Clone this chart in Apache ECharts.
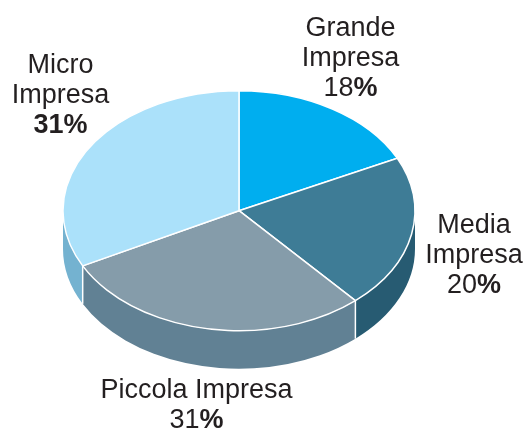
<!DOCTYPE html>
<html><head><meta charset="utf-8">
<style>html,body{margin:0;padding:0;background:#fff}#c{width:524px;height:428px}</style>
<script src="https://cdn.jsdelivr.net/npm/echarts@6/dist/echarts.min.js"></script>
</head><body><div id="c"></div>
<script>
// Data
const categories = ['Grande Impresa', 'Media Impresa', 'Piccola Impresa', 'Micro Impresa'];
const printedPercents = [18, 20, 31, 31];        // as printed in the labels
const sliceShares = [17.8, 20.7, 28.9, 32.6];    // as drawn (measured from the slice edges)
const topColors = ['#00AEEF', '#3E7C96', '#859CAA', '#ABE1FA'];
const sideColors = ['#0090C6', '#275B72', '#618194', '#74B2D0'];
const labelLines = [['Grande', 'Impresa'], ['Media', 'Impresa'], ['Piccola Impresa'], ['Micro', 'Impresa']];
const labelBoldDigits = [false, false, false, true];

// Layout
const pie = {cx: 239, cy: 210.7, rx: 176, ry: 120, depth: 38};
const labelCentres = [[350.5, 13], [474, 210], [196.5, 375], [60.5, 50]];
const font = '"Liberation Sans", Arial, sans-serif';
const fontSize = 27, lineHeight = 30.4, ink = '#231F20';

const total = sliceShares.reduce((a, b) => a + b, 0);
const starts = [];
sliceShares.reduce((acc, v, i) => { starts[i] = acc; return acc + v; }, 0);
const ang = s => s / total * 2 * Math.PI;            // clockwise from 12 o'clock
const px = a => pie.cx + pie.rx * Math.sin(a);
const py = a => pie.cy - pie.ry * Math.cos(a);
const arc = (a0, a1, dy, sweep) =>
  `A${pie.rx} ${pie.ry} 0 ${Math.abs(a1 - a0) > Math.PI ? 1 : 0} ${sweep} ${px(a1)} ${py(a1) + dy}`;

function topPath(a0, a1) {
  return `M${pie.cx} ${pie.cy}L${px(a0)} ${py(a0)}${arc(a0, a1, 0, 1)}Z`;
}
function sidePath(a0, a1) {
  const lo = Math.max(a0, Math.PI / 2), hi = Math.min(a1, 1.5 * Math.PI);
  if (hi <= lo) return null;
  return `M${px(lo)} ${py(lo)}${arc(lo, hi, 0, 1)}L${px(hi)} ${py(hi) + pie.depth}` +
         `${arc(hi, lo, pie.depth, 0)}Z`;
}
function labelRich(i) {
  const lines = labelLines[i].map(l => `{r|${l}}`);
  const num = labelBoldDigits[i] ? 'b' : 'r';
  lines.push(`{${num}|${printedPercents[i]}}{b|%}`);
  return lines.join('\n');
}
const richStyle = {
  r: {fontFamily: font, fontSize, lineHeight, fill: ink, color: ink},
  b: {fontFamily: font, fontSize, lineHeight, fontWeight: 'bold', fill: ink, color: ink}
};

const chart = echarts.init(document.getElementById('c'), null, {renderer: 'canvas'});
chart.setOption({
  animation: false,
  backgroundColor: '#ffffff',
  series: [
    {
      type: 'custom', coordinateSystem: 'none', silent: true, z: 1,
      data: categories.map((c, i) => ({name: c, value: sliceShares[i]})),
      renderItem(params) {
        const i = params.dataIndex;
        const a0 = ang(starts[i]), a1 = ang(starts[i] + sliceShares[i]);
        const d = sidePath(a0, a1);
        if (!d) return {type: 'group', children: []};
        return {type: 'path', shape: {pathData: d},
          style: {fill: sideColors[i], stroke: '#ffffff', lineWidth: 0}};
      }
    },
    {
      type: 'custom', coordinateSystem: 'none', silent: true, z: 2,
      data: categories.map((c, i) => ({name: c, value: sliceShares[i]})),
      renderItem(params) {
        const i = params.dataIndex;
        const a0 = ang(starts[i]), a1 = ang(starts[i] + sliceShares[i]);
        const children = [{type: 'path', shape: {pathData: topPath(a0, a1)},
          style: {fill: topColors[i], stroke: '#ffffff', lineWidth: 1.5, lineJoin: 'round'}}];
        if (a0 >= Math.PI / 2 && a0 <= 1.5 * Math.PI) {
          children.push({type: 'line',
            shape: {x1: px(a0), y1: py(a0), x2: px(a0), y2: py(a0) + pie.depth},
            style: {stroke: '#ffffff', lineWidth: 1.5}});
        }
        return {type: 'group', children};
      }
    },
    {
      type: 'custom', coordinateSystem: 'none', silent: true, z: 3,
      data: categories.map((c, i) => ({name: c, value: printedPercents[i]})),
      renderItem(params) {
        const i = params.dataIndex;
        return {type: 'text', style: {
          x: labelCentres[i][0], y: labelCentres[i][1],
          text: labelRich(i), rich: richStyle,
          font: `${fontSize}px ${font}`, fill: ink,
          textAlign: 'center', textVerticalAlign: 'top', verticalAlign: 'top', align: 'center'
        }};
      }
    }
  ]
});
</script></body></html>
